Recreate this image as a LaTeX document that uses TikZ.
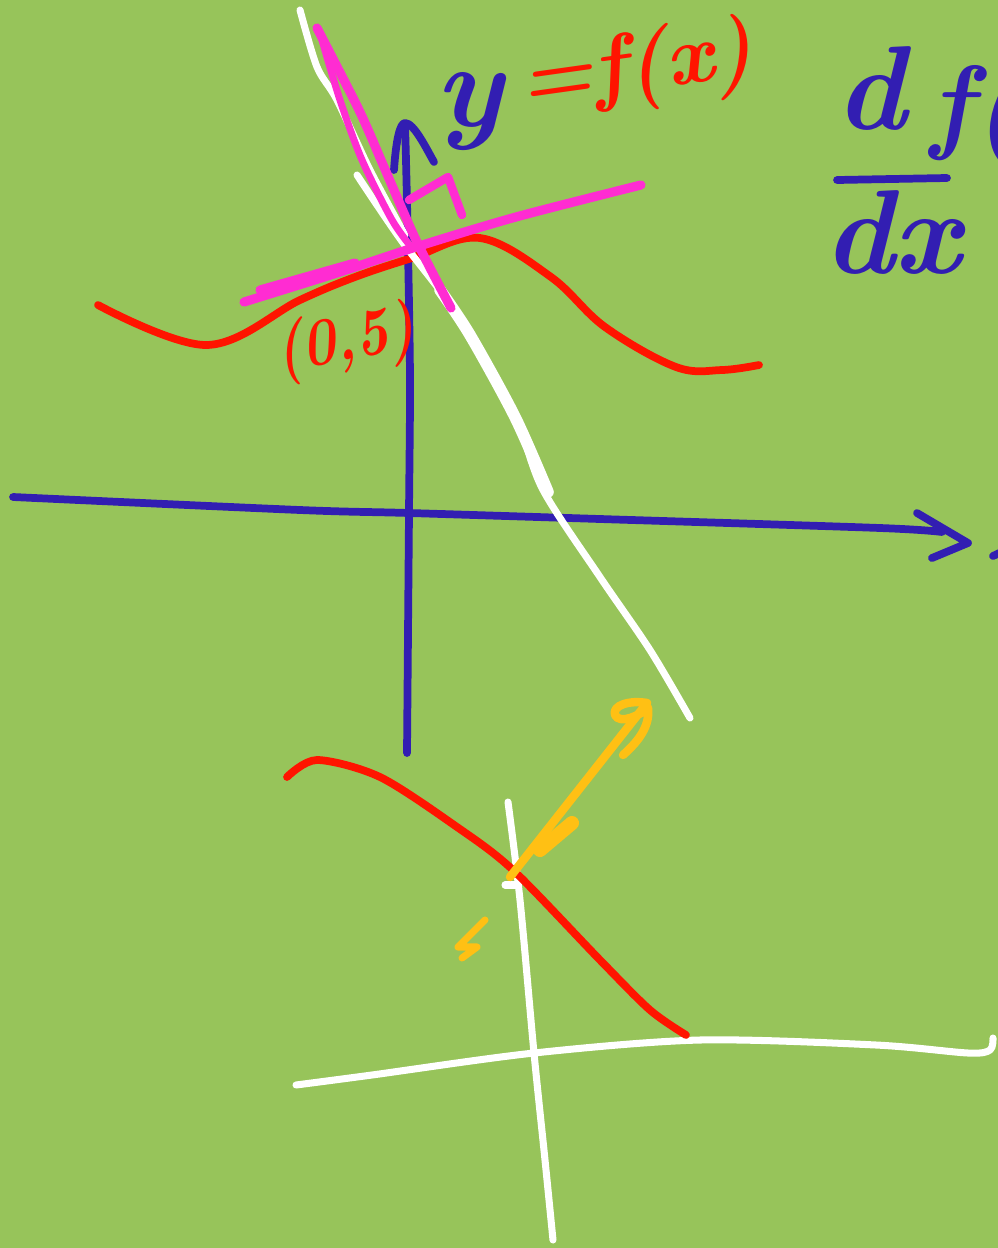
\documentclass[tikz,border=0pt]{standalone}
\usepackage{fontspec}
\definecolor{board}{RGB}{151,196,90}
\definecolor{penblue}{RGB}{50,30,178}
\definecolor{penred}{RGB}{255,20,0}
\definecolor{penpink}{RGB}{255,44,210}
\definecolor{penyellow}{RGB}{255,192,20}
\begin{document}
\begin{tikzpicture}[x=0.01cm, y=-0.01cm,
    pen/.style={line width=#1, line cap=round, line join=round},
    pen/.default=2.2pt,
    ink/.style={inner sep=0pt, font=\fontsize{#1}{#1}\selectfont\bfseries\itshape}]
\fill[board] (0,0) rectangle (998,1248);
\clip (0,0) rectangle (998,1248);
% upper axes
\draw[pen, penblue] plot[smooth] coordinates {(13,497) (300,510) (409,513) (600,519) (880,528) (942,532)};
\draw[pen, penblue] (917,513) -- (968,543) -- (932,558);
\draw[pen, penblue] (993,556) -- (1010,548);
\draw[pen, penblue] plot[smooth] coordinates {(407,753) (409,513) (410,380) (408,250) (406,160) (405,125)};
\draw[pen, penblue] (394,170) .. controls (396,140) and (400,123) .. (405,123) .. controls (414,123) and (426,148) .. (434,162);
% curve
\draw[pen, penred] plot[smooth, tension=0.6] coordinates {(98,305) (207,345) (300,300) (355,277) (412,258) (480,238) (551,277) (605,327) (676,367) (722,370) (759,365)};
% white line
\draw[pen=2pt, white] plot[smooth] coordinates {(300,10) (317,67) (337,100) (370,170) (405,235)};
\draw[pen=2pt, white] plot[smooth] coordinates {(357,175) (401,240) (459,317) (515,417) (543,490) (600,577) (650,650) (690,718)};
\draw[pen=3.3pt, white] plot[smooth] coordinates {(440,290) (470,335) (515,417) (548,492)};
% tangents
\draw[pen=2.6pt, penpink] plot[smooth] coordinates {(244,302) (337,273) (416,247) (516,217) (641,185)};
\draw[pen=2.6pt, penpink] (260,290) -- (355,263);
\draw[pen=2.6pt, penpink] plot[smooth] coordinates {(317,28) (359,110) (384,167) (416,240) (451,308)};
\draw[pen=2pt, penpink] plot[smooth] coordinates {(322,40) (340,100) (362,160) (392,220) (412,248)};
\draw[pen=2.4pt, penpink] (409,200) -- (448,177) -- (462,215);
% labels
\node[ink=34, text=penblue] (ylabel) at (469,112) {y};
\node[ink=24, text=penred, rotate=8] (flabel) at (636,70) {=f(x)};
\node[ink=19, text=penred, rotate=10, xscale=0.85] (pointlabel) at (346,343) {(0,5)};
\node[ink=34, text=penblue] (numlabel) at (871,88) {d};
\draw[pen, penblue] (837,180) -- (947,178);
\node[ink=34, text=penblue] (denlabel) at (892,232) {dx};
\node[ink=30, text=penblue, anchor=west] (fnlabel) at (930,113) {f(};
% lower axes
\draw[pen=2pt, white] plot[smooth] coordinates {(508,802) (520,900) (534,1053) (545,1160) (553,1240)};
\draw[pen=2pt, white] plot[smooth] coordinates {(296,1085) (372,1075) (534,1053) (700,1040) (876,1045) (968,1053) (990,1050) (993,1038)};
\draw[pen=2pt, white] (505,885) -- (517,885);
\draw[pen, penred] plot[smooth] coordinates {(287,777) (317,760) (380,777) (457,827) (513,870) (600,960) (650,1010) (686,1035)};
% arrow
\draw[pen=2.4pt, penyellow] (510,877) -- (647,703);
\draw[pen=4pt, penyellow] (540,850) -- (572,823);
\draw[pen=2.4pt, penyellow] (647,703) .. controls (630,700) and (612,705) .. (615,715) .. controls (620,725) and (640,715) .. (648,708) .. controls (650,725) and (640,740) .. (623,755);
\draw[pen=2pt, penyellow] (485,920) -- (458,947) -- (477,947) -- (462,958);
\end{tikzpicture}
\end{document}
